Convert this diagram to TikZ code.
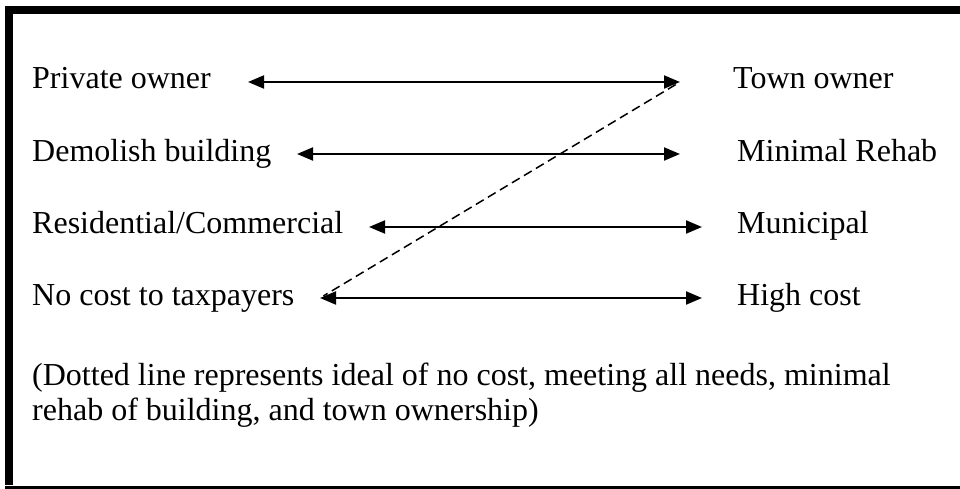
\documentclass[tikz,border=0pt]{standalone}
\usepackage{fontspec}
\setmainfont{Liberation Serif}
\usetikzlibrary{arrows.meta}
\tikzstyle{choice} = [anchor=base west, inner sep=0pt, font=\fontsize{32}{35}\selectfont]
\tikzstyle{two way} = [line width=2pt, {Triangle[length=16pt,width=13pt]}-{Triangle[length=16pt,width=13pt]}]
\tikzstyle{ideal} = [line width=1.5pt, dash pattern=on 9pt off 5pt]
\tikzstyle{heavy} = [line width=8pt]

\begin{document}
\begin{tikzpicture}[x=1pt,y=-1pt]
    \useasboundingbox (0,0) rectangle (960,489);
    % frame
    \draw[heavy] (9,485) -- (9,10) -- (960,10);
    \draw[line width=3pt] (5,487.5) -- (960,487.5);

    \node[choice] (private) at (32,89)  {Private owner};
    \node[choice] (town)    at (733,89) {Town owner};
     \coordinate (private end) at (248,82);  \coordinate (town end) at (680,82);
     \draw[two way] (private end) -- (town end);

    \node[choice] (demolish) at (32,161)  {Demolish building};
    \node[choice] (minimal)  at (737,161) {Minimal Rehab};
     \coordinate (demolish end) at (297,154); \coordinate (minimal end) at (680,154);
     \draw[two way] (demolish end) -- (minimal end);

    \node[choice] (residential) at (32,233)  {Residential/Commercial};
    \node[choice] (municipal)   at (737,233) {Municipal};
     \coordinate (residential end) at (369,227); \coordinate (municipal end) at (702,227);
     \draw[two way] (residential end) -- (municipal end);

    \node[choice] (nocost) at (32,305)  {No cost to taxpayers};
    \node[choice] (high)   at (737,305) {High cost};
     \coordinate (nocost end) at (320,298); \coordinate (high end) at (702,298);
     \draw[two way] (nocost end) -- (high end);

    % the ideal
    \draw[ideal, shorten <=5pt, shorten >=4pt] (town end) -- (nocost end);

    \node[choice, align=left] (note) at (32,420)
     {(Dotted line represents ideal of no cost, meeting all needs, minimal\\
      rehab of building, and town ownership)};
\end{tikzpicture}
\end{document}
